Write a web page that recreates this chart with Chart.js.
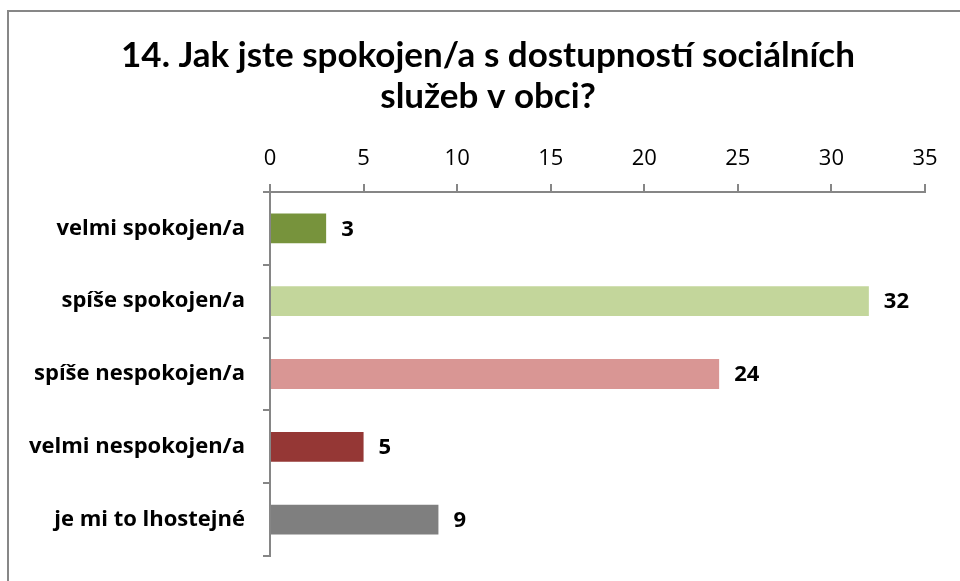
<!DOCTYPE html>
<html>
<head>
<meta charset="utf-8">
<script src="https://cdn.jsdelivr.net/npm/chart.js@4/dist/chart.umd.min.js"></script>
<style>
  html, body { margin: 0; padding: 0; background: #fff; overflow: hidden; }
  #frame { position: absolute; left: 7px; top: 10px; width: 1000px; height: 700px; border: 2px solid #878787; box-sizing: border-box; }
  #wrap { position: absolute; left: 0; top: 0; width: 960px; height: 581px; }
</style>
</head>
<body>
<div id="frame"></div>
<div id="wrap"><canvas id="chart" width="960" height="581"></canvas></div>
<script>
// survey answers, question 14
const titleLines = ['14. Jak jste spokojen/a s dostupností sociálních', 'služeb v obci?'];
const categories = ['velmi spokojen/a', 'spíše spokojen/a', 'spíše nespokojen/a', 'velmi nespokojen/a', 'je mi to lhostejné'];
const counts = [3, 32, 24, 5, 9];
const barColors = ['#77933C', '#C3D69B', '#D99694', '#953735', '#7F7F7F'];
const axisMax = 35;
const axisStep = 5;

const TITLE_FONT = 'Lato, "Open Sans", sans-serif';
const FONT = '"Open Sans", Lato, sans-serif';
const AXIS_GREY = '#868686';

// title is centred over the whole frame, not the padded chart box
const frameTitle = {
  id: 'frameTitle',
  beforeDraw(chart) {
    const ctx = chart.ctx;
    ctx.save();
    ctx.font = 'bold 35px ' + TITLE_FONT;
    ctx.fillStyle = '#000';
    ctx.textAlign = 'center';
    ctx.textBaseline = 'alphabetic';
    titleLines.forEach((line, i) => ctx.fillText(line, 488, 67 + i * 41));
    ctx.restore();
  }
};

// value labels just right of each bar end
const valueLabels = {
  id: 'valueLabels',
  afterDatasetsDraw(chart) {
    const ctx = chart.ctx;
    const meta = chart.getDatasetMeta(0);
    ctx.save();
    ctx.font = 'bold 22px ' + FONT;
    ctx.fillStyle = '#000';
    ctx.textAlign = 'left';
    ctx.textBaseline = 'middle';
    meta.data.forEach((bar, i) => {
      ctx.fillText(String(counts[i]), bar.x + 15, bar.y + 1);
    });
    ctx.restore();
  }
};

new Chart(document.getElementById('chart').getContext('2d'), {
  type: 'bar',
  data: {
    labels: categories,
    datasets: [{
      data: counts,
      backgroundColor: barColors,
      borderWidth: 0,
      barPercentage: 0.41,
      categoryPercentage: 1
    }]
  },
  options: {
    indexAxis: 'y',
    responsive: false,
    animation: false,
    layout: { padding: { top: 116, left: 0, right: 35, bottom: 25 } },
    plugins: {
      legend: { display: false },
      tooltip: { enabled: false },
      title: { display: false }
    },
    scales: {
      x: {
        position: 'top',
        min: 0,
        max: axisMax,
        afterFit(scale) {
          scale.height = 76;
          scale.paddingLeft = 0;
          scale.paddingRight = 0;
        },
        ticks: {
          stepSize: axisStep,
          color: '#000',
          padding: 12,
          font: { family: FONT, size: 22 }
        },
        grid: { drawOnChartArea: false, tickLength: 8, color: AXIS_GREY, lineWidth: 2 },
        border: { color: AXIS_GREY, width: 2 }
      },
      y: {
        afterFit(scale) {
          scale.width = 270;
          scale.paddingTop = 0;
          scale.paddingBottom = 0;
        },
        ticks: {
          color: '#000',
          padding: 18,
          font: { family: FONT, size: 22, weight: 'bold' }
        },
        grid: { drawOnChartArea: false, offset: true, tickLength: 7, color: AXIS_GREY, lineWidth: 2 },
        border: { color: AXIS_GREY, width: 2 }
      }
    }
  },
  plugins: [frameTitle, valueLabels]
});
</script>
</body>
</html>
